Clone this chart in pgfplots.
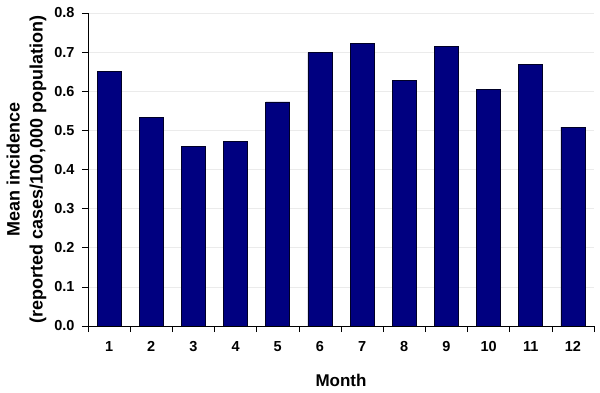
\documentclass[border=0pt]{standalone}
\usepackage{pgfplots}
\pgfplotsset{compat=1.18}
\usepackage{fontspec}
\setmainfont{Liberation Sans}
\definecolor{barblue}{HTML}{000080}
\begin{document}
\begin{tikzpicture}
\begin{axis}[
  name=ax,
  scale only axis,
  width=506bp, height=313bp,
  xmin=0.5, xmax=12.5, ymin=0, ymax=0.8,
  axis lines*=left,
  axis line style={black, line width=0.8pt},
  xtick={0.5,1.5,...,12.5},
  xticklabels={},
  extra x ticks={1,2,3,4,5,6,7,8,9,10,11,12},
  extra x tick style={major tick length=0pt, xticklabel style={anchor=base, yshift=-25bp}},
  ytick={0,0.1,...,0.8},
  major tick length=6bp,
  tick align=outside,
  tick style={black, line width=0.6pt},
  ymajorgrids,
  grid style={color=black!8, line width=0.6pt},
  /pgf/number format/assume math mode=true,
  ticklabel style={font=\fontsize{14.5bp}{16bp}\selectfont\bfseries},
  yticklabel style={anchor=east, xshift=-4bp, /pgf/number format/fixed, /pgf/number format/fixed zerofill, /pgf/number format/precision=1},
  xlabel={Month},
  xlabel style={font=\fontsize{17bp}{20bp}\selectfont\bfseries, at={(axis description cs:0.5,-0.1725)}, anchor=center},
  ylabel={Mean incidence\\(reported cases/100,000 population)},
  ylabel style={font=\fontsize{18bp}{23bp}\selectfont\bfseries, align=center, at={(axis description cs:-0.1215,0.5)}, anchor=center},
  ybar, bar width=24bp,
]
\addplot[fill=barblue, draw=black!70!barblue, line width=0.6pt] coordinates {
(1,0.650) (2,0.534) (3,0.460) (4,0.472) (5,0.573) (6,0.699)
(7,0.722) (8,0.628) (9,0.714) (10,0.604) (11,0.668) (12,0.508)};
\end{axis}
\pgfresetboundingbox
\path[use as bounding box] ([xshift=-88bp,yshift=-67bp]ax.south west) rectangle ([xshift=6bp,yshift=13bp]ax.north east);
\end{tikzpicture}
\end{document}
